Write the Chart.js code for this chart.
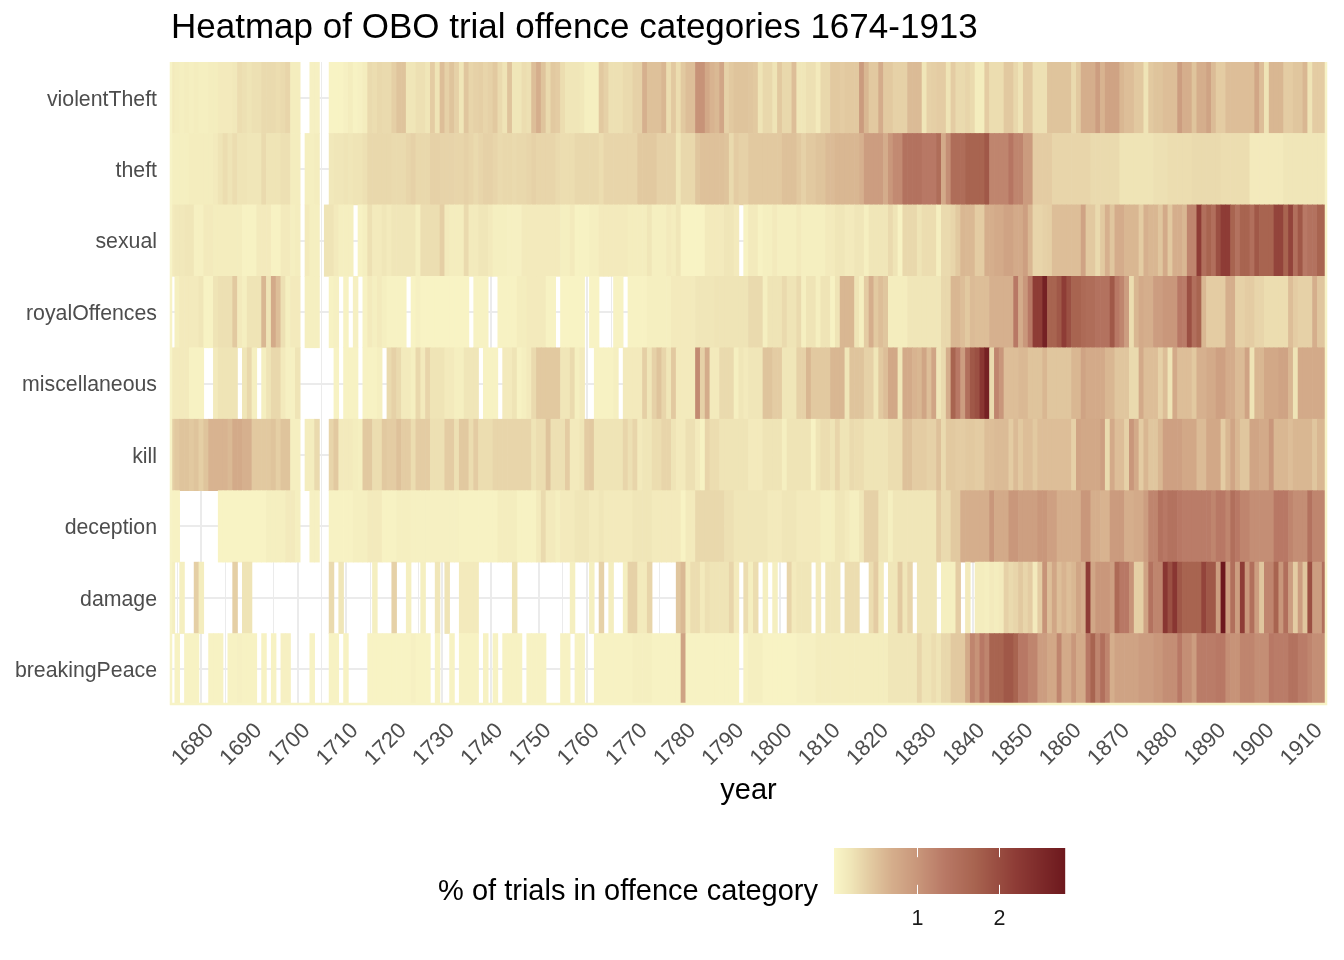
<!DOCTYPE html>
<html>
<head>
<meta charset="utf-8">
<script src="https://cdn.jsdelivr.net/npm/chart.js@4.4.1/dist/chart.umd.min.js"></script>
<style>
  html, body { margin: 0; padding: 0; background: #ffffff; }
  #wrap { width: 1344px; height: 960px; }
</style>
</head>
<body>
<div id="wrap"><canvas id="heat" width="1344" height="960"></canvas></div>
<script>
// rows, bottom to top
const offenceCategories = ["breakingPeace", "damage", "deception", "kill", "miscellaneous",
  "royalOffences", "sexual", "theft", "violentTheft"];

const firstYear = 1674;
const lastYear = 1913;
const decadeTicks = [1680, 1690, 1700, 1710, 1720, 1730, 1740, 1750, 1760, 1770, 1780, 1790,
  1800, 1810, 1820, 1830, 1840, 1850, 1860, 1870, 1880, 1890, 1900, 1910];
const legendTicks = [1, 2];

// % of trials in each category per year, 1674..1913 (null = no trials)
const violentTheft = [
  0.15,0.12,0.1,0.12,0.1,0.12,0.1,0.1,0.12,0.12, 0.15,0.15,0.15,0.18,0.28,0.25,0.22,0.25,0.25,0.3,
  0.3,0.3,0.28,0.3,0.35,0.12,0.12,null,null,0.08, 0.08,null,null,0.05,0.05,0.05,0.08,0.12,0.06,0.08,
  0.12,0.3,0.28,0.32,0.3,0.3,0.4,0.5,0.5,0.2, 0.2,0.25,0.25,0.2,0.42,0.22,0.55,0.38,0.5,0.38,
  0.2,0.48,0.35,0.38,0.4,0.35,0.38,0.45,0.3,0.22, 0.5,0.2,0.2,0.28,0.25,0.55,0.7,0.5,0.3,0.45,
  0.42,0.28,0.2,0.2,0.2,0.18,0.1,0.1,0.1,0.45, 0.38,0.25,0.25,0.25,0.3,0.3,0.38,0.38,0.68,0.52,
  0.52,0.52,0.62,0.28,0.45,0.28,0.45,0.55,0.55,1.05, 1.05,0.78,0.65,0.6,0.8,0.38,0.45,0.5,0.5,0.5,
  0.48,0.45,0.22,0.32,0.32,0.22,0.45,0.32,0.32,0.55, 0.2,0.2,0.25,0.25,0.15,0.32,0.32,0.45,0.45,0.42,
  0.45,0.45,0.45,0.95,0.62,0.45,0.45,0.72,0.45,0.45, 0.38,0.38,0.38,0.58,0.58,0.58,0.2,0.38,0.4,0.42,
  0.42,0.22,0.42,0.3,0.3,0.35,0.3,0.12,0.12,0.42, 0.28,0.28,0.28,0.45,0.45,0.32,0.22,0.45,0.45,0.25,
  0.25,0.25,0.5,0.5,0.5,0.5,0.5,0.3,0.45,0.7, 0.7,0.7,0.92,0.65,0.85,0.85,0.85,0.62,0.55,0.55,
  0.45,0.45,0.22,0.45,0.5,0.5,0.55,0.55,0.55,0.92, 0.7,0.7,0.5,0.7,0.7,0.85,0.58,0.42,0.42,0.55,
  0.55,0.55,0.55,0.55,0.55,0.8,0.55,0.22,0.62,0.62, 0.62,0.42,0.42,0.48,0.48,0.62,0.22,0.42,0.42,0.42
];
const theft = [
  0.1,0.1,0.1,0.1,0.12,0.12,0.12,0.12,0.12,0.15, 0.22,0.28,0.22,0.28,0.22,0.22,0.2,0.2,0.2,0.3,
  0.22,0.22,0.22,0.25,0.25,0.12,0.12,null,0.1,0.1, 0.12,null,null,0.18,0.2,0.2,0.22,0.2,0.22,0.22,
  0.25,0.32,0.32,0.32,0.32,0.32,0.3,0.3,0.3,0.35, 0.38,0.32,0.32,0.32,0.38,0.38,0.36,0.36,0.36,0.35,
  0.35,0.38,0.35,0.3,0.35,0.38,0.38,0.35,0.3,0.32, 0.32,0.3,0.32,0.32,0.35,0.38,0.35,0.35,0.35,0.35,
  0.3,0.28,0.28,0.28,0.32,0.32,0.32,0.32,0.32,0.28, 0.35,0.35,0.35,0.35,0.35,0.35,0.35,0.45,0.45,0.45,
  0.45,0.38,0.38,0.38,0.38,0.2,0.32,0.32,0.32,0.48, 0.52,0.52,0.52,0.52,0.52,0.5,0.3,0.42,0.38,0.38,
  0.45,0.45,0.45,0.45,0.45,0.45,0.45,0.52,0.52,0.52, 0.45,0.38,0.45,0.45,0.5,0.5,0.58,0.58,0.62,0.62,
  0.62,0.62,0.62,0.68,0.92,0.92,0.92,0.92,0.72,1.0, 1.15,1.15,1.45,1.45,1.45,1.45,1.35,1.35,1.35,1.55,
  0.75,1.1,1.55,1.55,1.55,1.7,1.7,1.7,1.7,1.85, 1.2,1.2,1.2,1.2,1.4,1.2,1.2,0.95,0.95,0.42,
  0.42,0.42,0.42,0.35,0.35,0.35,0.35,0.35,0.35,0.35, 0.35,0.3,0.3,0.3,0.3,0.3,0.3,0.22,0.22,0.22,
  0.22,0.22,0.22,0.22,0.25,0.25,0.25,0.28,0.28,0.28, 0.28,0.28,0.3,0.3,0.3,0.3,0.3,0.3,0.28,0.28,
  0.28,0.28,0.28,0.28,0.15,0.15,0.15,0.15,0.15,0.15, 0.15,0.2,0.2,0.2,0.2,0.2,0.2,0.2,0.2,0.2
];
const sexual = [
  0.15,0.18,0.18,0.2,0.2,0.08,0.08,0.15,0.15,0.12, 0.12,0.12,0.12,0.12,0.12,0.06,0.06,0.06,0.15,0.15,
  0.15,0.06,0.06,0.15,0.15,0.1,0.12,null,0.15,0.1, 0.1,null,0.22,0.22,0.15,0.1,0.1,0.1,null,0.06,
  0.1,0.25,0.15,0.15,0.2,0.15,0.2,0.2,0.2,0.2, 0.2,0.1,0.27,0.27,0.27,0.27,0.4,0.15,0.12,0.12,
  0.12,0.3,0.15,0.15,0.2,0.2,0.15,0.1,0.1,0.1, 0.08,0.08,0.08,0.15,0.15,0.15,0.15,0.15,0.15,0.15,
  0.15,0.1,0.1,0.15,0.06,0.06,0.06,0.1,0.1,0.15, 0.15,0.15,0.15,0.15,0.15,0.12,0.12,0.12,0.12,0.2,
  0.1,0.1,0.1,0.15,0.12,0.2,0.05,0.05,0.05,0.05, 0.05,0.15,0.15,0.15,0.15,0.2,0.2,0.15,null,0.06,
  0.15,0.15,0.06,0.1,0.1,0.15,0.1,0.1,0.1,0.1, 0.15,0.1,0.1,0.1,0.1,0.1,0.15,0.15,0.2,0.2,
  0.15,0.15,0.2,0.2,0.1,0.2,0.2,0.2,0.2,0.3, 0.22,0.06,0.32,0.32,0.32,0.22,0.28,0.28,0.28,0.1,
  0.3,0.3,0.35,0.45,0.62,0.6,0.6,0.42,0.42,0.7, 0.7,0.75,0.75,0.85,0.85,0.75,0.75,0.9,0.62,0.35,
  0.35,0.38,0.4,0.55,0.55,0.55,0.55,0.55,0.55,0.85, 0.45,0.45,0.3,0.45,0.68,0.48,0.72,0.72,0.62,0.62,
  0.62,0.42,0.68,0.62,0.62,0.48,0.75,0.45,0.7,0.7, 0.62,1.2,1.2,2.2,1.5,1.7,1.5,1.95,2.2,2.2,
  1.7,1.45,1.7,1.7,1.5,1.85,1.7,1.7,1.7,2.1, 2.1,1.7,2.1,1.5,1.85,1.35,1.45,1.45,1.7,1.7
];
const royalOffences = [
  null,0.1,0.15,0.15,0.15,0.15,0.2,0.06,0.06,0.22, 0.25,0.25,0.25,0.45,0.15,0.1,0.22,0.22,0.22,0.62,
  0.22,0.75,0.55,0.25,0.1,0.15,0.15,null,0.1,0.1, 0.1,null,null,0.06,0.08,null,0.06,null,0.08,null,
  0.06,0.15,0.1,0.15,0.1,0.06,0.06,0.06,0.06,null, 0.05,0.08,0.05,0.05,0.05,0.05,0.05,0.05,0.05,0.05,
  0.05,0.05,null,0.06,0.06,0.06,null,null,0.06,0.06, 0.06,0.06,0.12,0.12,0.15,0.15,0.15,0.15,0.06,0.06,
  null,0.05,0.05,0.05,0.05,0.05,null,0.05,0.05,null, null,null,0.06,0.06,null,0.06,0.06,0.06,0.06,0.1,
  0.1,0.1,0.1,0.1,0.15,0.15,0.15,0.15,0.15,0.2, 0.2,0.2,0.2,0.22,0.22,0.22,0.22,0.22,0.22,0.22,
  0.3,0.3,0.3,0.1,0.22,0.22,0.22,0.3,0.22,0.22, 0.3,0.1,0.22,0.22,0.1,0.22,0.22,0.06,0.22,0.62,
  0.62,0.62,0.22,0.1,0.42,0.7,0.45,0.55,0.48,0.12, 0.12,0.12,0.12,0.2,0.2,0.2,0.2,0.2,0.2,0.2,
  0.32,0.32,0.62,0.62,0.55,0.45,0.58,0.55,0.55,0.55, 0.68,0.68,0.68,0.68,0.68,1.35,0.72,1.0,1.35,2.2,
  2.2,2.65,1.7,1.7,1.85,2.2,1.95,1.7,1.7,1.6, 1.55,1.55,1.45,1.45,1.45,1.85,1.35,1.2,0.92,0.28,
  0.62,0.75,0.7,0.7,0.92,0.92,1.0,1.0,1.0,1.35, 1.3,1.95,1.5,1.7,0.62,0.42,0.42,0.42,0.42,0.7,
  0.7,0.38,0.38,0.42,0.42,0.35,0.35,0.28,0.28,0.28, 0.28,0.28,0.55,0.42,0.38,0.38,0.38,0.7,0.48,0.48
];
const miscellaneous = [
  0.15,0.15,0.15,0.15,0.06,0.06,0.06,null,null,0.15, 0.22,0.22,0.22,0.22,null,0.2,0.32,0.1,null,0.1,
  0.22,0.32,0.32,0.15,0.08,0.08,0.22,null,null,null, null,null,null,null,0.06,null,0.06,0.06,0.06,null,
  0.06,0.06,0.06,0.1,null,0.3,0.38,0.3,0.15,0.15, 0.1,0.32,0.15,0.35,0.22,0.22,0.22,0.15,0.15,0.1,
  0.1,0.2,0.2,0.2,null,0.06,0.06,0.06,null,0.15, 0.15,0.22,0.06,0.1,0.15,0.3,0.45,0.45,0.45,0.45,
  0.45,0.2,0.2,0.3,0.1,0.15,null,null,0.06,0.06, 0.06,0.06,0.1,null,0.15,0.15,0.15,0.15,0.4,0.2,
  0.38,0.5,0.35,0.2,0.45,0.15,0.15,0.15,0.15,1.15, 0.38,0.72,0.15,0.15,0.3,0.3,0.3,0.1,0.2,0.15,
  0.2,0.2,0.2,0.5,0.5,0.42,0.42,0.2,0.2,0.2, 0.38,0.38,0.62,0.45,0.45,0.45,0.45,0.62,0.62,0.62,
  0.2,0.5,0.5,0.5,0.38,0.38,0.2,0.45,0.55,0.78, 0.78,0.2,0.75,0.75,0.65,0.62,0.82,0.55,0.82,0.2,
  0.3,0.7,1.7,1.35,0.92,1.5,1.85,1.95,2.3,2.65, 0.3,1.2,1.0,0.55,0.55,0.55,0.6,0.6,0.5,0.5,
  0.5,0.62,0.48,0.48,0.48,0.48,0.48,0.62,0.62,0.85, 0.75,0.75,0.75,0.75,0.62,0.62,0.48,0.48,0.48,0.3,
  0.3,0.75,0.55,0.55,0.55,0.38,0.55,0.22,0.75,0.55, 0.55,0.55,0.45,0.68,0.68,0.75,0.75,0.88,0.88,0.72,
  0.72,0.58,0.58,0.85,0.22,0.62,0.62,0.78,0.78,0.78, 0.85,0.85,0.62,0.22,0.75,0.75,0.75,0.75,0.75,0.75
];
const kill = [
  0.4,0.45,0.5,0.5,0.45,0.5,0.4,0.5,0.65,0.65, 0.65,0.65,0.6,0.75,0.75,0.68,0.68,0.45,0.45,0.45,
  0.45,0.5,0.4,0.5,0.5,0.1,0.1,null,0.12,0.12, 0.3,null,null,0.35,0.45,0.15,0.15,0.15,0.12,0.1,
  0.45,0.45,0.28,0.28,0.45,0.42,0.42,0.52,0.42,0.42, 0.28,0.42,0.42,0.42,0.25,0.25,0.25,0.42,0.42,0.25,
  0.45,0.45,0.28,0.42,0.28,0.28,0.28,0.35,0.35,0.35, 0.35,0.35,0.35,0.35,0.35,0.22,0.28,0.28,0.5,0.25,
  0.25,0.25,0.42,0.15,0.15,0.2,0.42,0.45,0.22,0.22, 0.22,0.22,0.22,0.22,0.35,0.25,0.35,0.15,0.2,0.2,
  0.28,0.28,0.35,0.35,0.22,0.15,0.15,0.25,0.25,0.15, 0.06,0.35,0.28,0.28,0.22,0.22,0.22,0.22,0.22,0.22,
  0.15,0.15,0.15,0.22,0.22,0.22,0.22,0.1,0.22,0.22, 0.22,0.22,0.22,0.06,0.22,0.28,0.28,0.22,0.35,0.22,
  0.22,0.3,0.28,0.28,0.22,0.22,0.22,0.22,0.22,0.28, 0.28,0.28,0.52,0.52,0.42,0.42,0.42,0.38,0.38,0.52,
  0.3,0.45,0.45,0.42,0.42,0.45,0.45,0.42,0.42,0.55, 0.55,0.58,0.58,0.58,0.42,0.58,0.45,0.55,0.55,0.45,
  0.55,0.55,0.55,0.55,0.55,0.55,0.55,0.38,0.82,0.78, 0.78,0.78,0.78,0.9,0.3,0.75,0.55,0.55,0.38,1.0,
  0.75,0.42,0.62,0.48,0.48,0.62,0.88,0.88,0.88,0.88, 0.78,0.78,0.78,0.58,0.58,0.78,0.78,0.78,0.42,0.62,
  0.82,0.62,0.48,0.48,0.82,0.82,0.75,0.75,1.0,0.62, 0.62,0.62,0.55,0.62,0.62,0.62,0.62,0.48,0.62,0.62
];
const deception = [
  0.06,0.06,null,null,null,null,null,null,null,null, 0.05,0.05,0.05,0.05,0.05,0.05,0.05,0.05,0.05,0.05,
  0.1,0.1,0.1,0.1,0.15,0.15,0.1,null,null,0.08, 0.08,null,null,0.06,0.06,0.06,0.06,0.06,0.1,0.1,
  0.1,0.15,0.15,0.15,0.06,0.06,0.06,0.1,0.1,0.1, 0.08,0.08,0.08,0.08,0.08,0.08,0.08,0.08,0.08,0.08,
  0.06,0.06,0.06,0.06,0.06,0.06,0.06,0.06,0.12,0.12, 0.12,0.12,0.06,0.06,0.06,0.06,0.15,0.3,0.15,0.15,
  0.1,0.15,0.15,0.15,0.2,0.2,0.2,0.15,0.15,0.2, 0.15,0.15,0.15,0.15,0.15,0.15,0.2,0.2,0.2,0.2,
  0.15,0.15,0.15,0.15,0.15,0.15,0.05,0.15,0.15,0.32, 0.32,0.32,0.32,0.32,0.32,0.25,0.25,0.2,0.2,0.2,
  0.2,0.2,0.2,0.2,0.15,0.15,0.15,0.2,0.2,0.2, 0.15,0.15,0.15,0.15,0.15,0.1,0.1,0.1,0.2,0.2,
  0.15,0.1,0.1,0.2,0.38,0.38,0.38,0.2,0.2,0.1, 0.2,0.2,0.2,0.2,0.2,0.2,0.2,0.2,0.2,0.42,
  0.3,0.3,0.45,0.45,0.7,0.7,0.7,0.7,0.7,0.7, 1.0,0.75,0.75,0.75,1.0,1.0,0.9,0.9,0.9,0.9,
  1.0,1.0,0.88,0.88,0.7,0.7,0.7,0.7,0.7,1.0, 1.0,0.7,0.7,0.65,0.65,0.95,0.95,0.95,0.7,0.7,
  0.75,0.75,0.92,1.2,1.2,1.45,1.35,1.45,1.45,1.35, 1.3,1.3,1.3,1.3,1.3,1.3,1.2,1.35,1.35,1.2,
  1.5,1.35,1.2,1.2,1.1,1.1,1.1,1.1,1.1,1.35, 1.35,1.35,1.2,1.1,1.1,1.1,1.45,1.2,1.2,1.2
];
const damage = [
  0.1,null,0.1,null,null,0.4,0.12,null,null,null, null,null,null,0.4,null,0.22,0.22,null,null,null,
  null,null,null,null,null,null,null,null,null,null, null,null,null,0.3,null,0.2,null,null,null,null,
  null,null,0.1,null,null,null,0.38,null,null,0.1, null,null,0.1,null,null,0.2,null,0.22,null,null,
  0.15,0.15,0.15,0.15,null,null,null,null,null,null, null,0.22,null,null,null,null,null,null,null,null,
  null,null,null,0.1,null,null,null,0.1,null,0.38, null,0.12,null,null,0.1,0.38,0.38,0.15,0.15,0.35,
  null,null,null,null,null,0.48,0.6,0.15,0.28,0.28, 0.15,0.25,0.22,0.22,0.22,0.22,0.35,0.15,null,0.28,
  0.1,0.28,null,0.1,null,0.1,null,null,0.35,0.15, 0.2,0.2,0.2,null,0.15,null,0.2,0.2,0.2,null,
  0.28,0.28,0.28,null,null,0.28,0.42,0.15,null,0.2, 0.2,0.45,0.2,0.35,null,0.2,0.2,0.2,0.2,null,
  0.1,0.1,0.1,0.42,null,0.15,null,0.12,0.12,0.1, 0.15,0.12,0.15,0.38,0.3,0.35,0.45,0.35,0.42,0.15,
  0.42,1.05,0.55,0.8,0.55,0.65,0.55,0.62,0.82,0.7, 2.2,0.8,1.0,1.0,1.0,0.9,1.6,1.35,1.35,1.05,
  0.4,0.4,0.85,1.45,1.2,1.2,2.3,1.95,2.3,1.85, 1.7,1.7,1.7,1.7,2.1,1.85,1.85,0.92,2.8,0.92,
  1.5,0.92,2.2,1.0,1.5,0.92,0.48,1.2,1.2,1.7, 1.0,1.5,0.92,0.42,0.92,0.48,1.95,0.92,0.92,1.5
];
const breakingPeace = [
  null,0.06,null,0.06,0.06,0.06,null,null,0.06,0.06, 0.06,null,0.06,0.06,0.08,0.06,0.06,0.06,null,0.06,
  null,0.06,null,0.08,0.08,null,null,null,null,0.06, null,null,null,0.06,0.06,null,0.06,null,null,null,
  null,0.05,0.05,0.05,0.05,0.05,0.05,0.05,0.05,0.05, 0.08,0.05,0.05,0.05,null,0.06,null,null,0.06,null,
  0.06,0.06,0.06,0.06,null,0.06,null,0.06,null,0.06, 0.06,0.06,0.06,null,0.06,0.06,0.06,0.06,null,null,
  null,0.06,0.06,null,0.06,0.06,null,null,0.06,0.06, 0.06,0.06,0.06,0.06,0.06,0.06,0.1,0.1,0.1,0.1,
  0.06,0.06,0.06,0.06,0.06,0.06,0.85,0.06,0.06,0.06, 0.06,0.06,0.06,0.06,0.06,0.06,0.06,0.06,null,0.06,
  0.1,0.1,0.1,0.05,0.05,0.05,0.05,0.05,0.05,0.05, 0.08,0.08,0.08,0.08,0.12,0.12,0.12,0.12,0.12,0.12,
  0.12,0.12,0.12,0.12,0.12,0.12,0.12,0.12,0.12,0.2, 0.2,0.2,0.2,0.2,0.2,0.35,0.22,0.22,0.28,0.22,
  0.32,0.32,0.45,0.45,0.45,0.75,1.2,1.05,1.35,1.2, 1.7,1.7,1.7,1.85,1.85,1.7,1.35,1.35,1.2,1.2,
  0.92,0.92,0.78,0.78,1.2,0.75,0.75,1.0,0.75,0.75, 1.35,1.7,1.2,1.5,1.2,0.7,0.85,0.85,0.85,0.85,
  0.85,0.92,0.92,0.92,1.0,1.0,1.1,1.1,1.1,1.35, 1.1,1.1,0.92,1.3,1.3,1.3,1.3,1.35,1.35,1.1,
  1.05,1.05,1.2,1.2,1.2,1.1,1.1,1.1,1.35,1.3, 1.3,1.3,1.45,1.45,1.3,1.3,1.2,1.1,1.1,1.1
];

const seriesByCategory = [breakingPeace, damage, deception, kill, miscellaneous,
  royalOffences, sexual, theft, violentTheft];

const years = [];
for (let y = firstYear; y <= lastYear; y++) years.push(y);

// colour ramp, pale yellow -> tan -> dark red
const colourStops = [
  [0.0, "#FAF7C8"], [0.2, "#F0E6B8"], [0.45, "#E2C9A0"], [0.7, "#D5AE8C"], [1.0, "#C9977B"],
  [1.35, "#B87865"], [1.7, "#A86450"], [2.2, "#8E3C36"], [2.84, "#6B161C"]
];
const hexRgb = h => [1, 3, 5].map(i => parseInt(h.slice(i, i + 2), 16));
function heatColour(v) {
  if (v <= colourStops[0][0]) return colourStops[0][1];
  for (let i = 1; i < colourStops.length; i++) {
    const [v1, c1] = colourStops[i];
    if (v <= v1) {
      const [v0, c0] = colourStops[i - 1];
      const t = (v - v0) / (v1 - v0);
      const a = hexRgb(c0), b = hexRgb(c1);
      const m = a.map((x, k) => Math.round(x + (b[k] - x) * t));
      return `rgb(${m[0]},${m[1]},${m[2]})`;
    }
  }
  return colourStops[colourStops.length - 1][1];
}

const allValues = seriesByCategory.flat().filter(v => v != null);
const valueMax = Math.max(...allValues);
const valueMin = 0;

const FONT = "'Liberation Sans', Arial, Helvetica, sans-serif";

const decorations = {
  id: "decorations",
  afterDatasetsDraw(chart) {
    // thin pale edge the panel shows on its left, bottom and right
    const { ctx, chartArea: a } = chart;
    ctx.save();
    ctx.strokeStyle = "#F7F3C6";
    ctx.lineWidth = 2.5;
    ctx.beginPath();
    ctx.moveTo(a.left + 1, a.top);
    ctx.lineTo(a.left + 1, a.bottom - 1);
    ctx.lineTo(a.right - 1, a.bottom - 1);
    ctx.lineTo(a.right - 1, a.top);
    ctx.stroke();
    ctx.restore();
  },
  afterDraw(chart) {
    const { ctx, chartArea: a } = chart;
    ctx.save();
    ctx.fillStyle = "#000000";
    ctx.textBaseline = "alphabetic";

    ctx.font = `35px ${FONT}`;
    ctx.textAlign = "left";
    ctx.fillText("Heatmap of OBO trial offence categories 1674-1913", a.left + 1, 38);

    ctx.font = `29px ${FONT}`;
    ctx.textAlign = "center";
    ctx.fillText("year", (a.left + a.right) / 2, 799);

    // colour bar legend
    const bar = { x: 834, y: 848, w: 231, h: 46 };
    for (let i = 0; i < bar.w; i++) {
      const v = valueMin + (i + 0.5) / bar.w * (valueMax - valueMin);
      ctx.fillStyle = heatColour(v);
      ctx.fillRect(bar.x + i, bar.y, 1.2, bar.h);
    }
    ctx.strokeStyle = "#FFFFFF";
    ctx.lineWidth = 1;
    ctx.font = `21.5px ${FONT}`;
    ctx.textAlign = "center";
    legendTicks.forEach(t => {
      const x = Math.round(bar.x + (t - valueMin) / (valueMax - valueMin) * bar.w) + 0.5;
      ctx.beginPath();
      ctx.moveTo(x, bar.y); ctx.lineTo(x, bar.y + bar.h / 5);
      ctx.moveTo(x, bar.y + bar.h); ctx.lineTo(x, bar.y + bar.h - bar.h / 5);
      ctx.stroke();
      ctx.fillStyle = "#1A1A1A";
      ctx.fillText(String(t), x, 925);
    });

    ctx.fillStyle = "#000000";
    ctx.font = `29px ${FONT}`;
    ctx.textAlign = "right";
    ctx.fillText("% of trials in offence category", 818, 900);
    ctx.restore();
  }
};

const chart = new Chart(document.getElementById("heat"), {
  type: "bar",
  data: {
    labels: years,
    datasets: seriesByCategory.map((vals, i) => ({
      label: offenceCategories[i],
      data: vals.map(v => (v == null ? null : [i - 0.5, i + 0.5])),
      backgroundColor: vals.map(v => (v == null ? "rgba(0,0,0,0)" : heatColour(v))),
      borderWidth: 0,
      grouped: false,
      barPercentage: 1,
      categoryPercentage: 1,
    })),
  },
  options: {
    responsive: false,
    animation: false,
    events: [],
    layout: { padding: { top: 62, right: 17, bottom: 195, left: 0 } },
    plugins: {
      legend: { display: false },
      title: { display: false },
      tooltip: { enabled: false },
    },
    scales: {
      x: {
        type: "category",
        offset: true,
        border: { display: false },
        grid: {
          offset: false,
          drawTicks: false,
          color: ctx => (years[ctx.index] % 5 === 0 ? "#EBEBEB" : "rgba(0,0,0,0)"),
          lineWidth: ctx => (decadeTicks.includes(years[ctx.index]) ? 2 : 1),
        },
        ticks: {
          autoSkip: false,
          minRotation: 45,
          maxRotation: 45,
          padding: 13,
          labelOffset: 9,
          color: "#4D4D4D",
          font: { family: FONT, size: 22 },
          callback: (v, i) => (decadeTicks.includes(years[i]) ? String(years[i]) : ""),
        },
        afterFit: s => { s.height = 60; s.paddingLeft = 0; s.paddingRight = 0; },
      },
      y: {
        type: "linear",
        min: -0.5,
        max: 8.5,
        border: { display: false },
        afterBuildTicks: s => { s.ticks = offenceCategories.map((_, i) => ({ value: i })); },
        grid: { color: "#EBEBEB", lineWidth: 2, drawTicks: false },
        ticks: {
          padding: 13,
          labelOffset: 2,
          color: "#4D4D4D",
          font: { family: FONT, size: 21.3 },
          callback: v => offenceCategories[v],
        },
        afterFit: s => { s.width = 170; s.paddingTop = 0; s.paddingBottom = 0; },
      },
    },
  },
  plugins: [decorations],
});
</script>
</body>
</html>
